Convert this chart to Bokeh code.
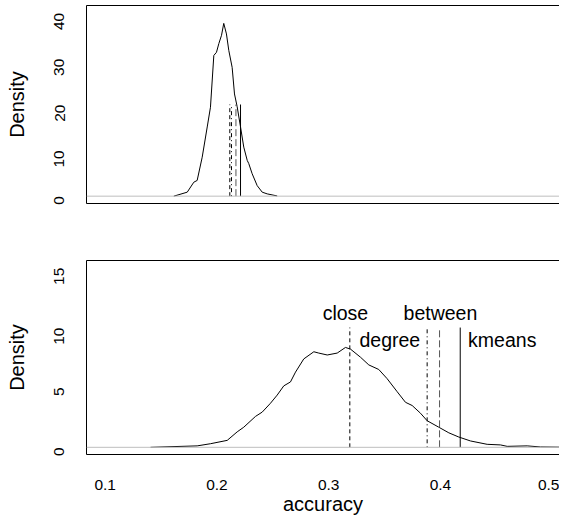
import math
from bokeh.plotting import figure
from bokeh.models import Range1d, FixedTicker, LinearAxis, Span
from bokeh.layouts import column
from bokeh.embed import file_html
from bokeh.resources import INLINE
from bokeh.core.properties import value

# ---------------- data ----------------
top_x = [0.1614, 0.1734, 0.1793, 0.1823, 0.1868, 0.1913, 0.1942, 0.1972, 0.1996,
         0.2017, 0.2041, 0.2061, 0.2085, 0.2106, 0.2136, 0.2157, 0.2181, 0.2211,
         0.2240, 0.2271, 0.2285, 0.2315, 0.2360, 0.2405, 0.2450, 0.2539]
top_density = [0.0, 0.87, 3.05, 3.43, 8.5, 15.1, 19.4, 30.7, 31.4,
               33.3, 35.1, 37.7, 35.4, 31.8, 28.1, 22.3, 19.5, 15.1,
               10.7, 7.8, 7.1, 4.9, 2.3, 0.87, 0.5, 0.05]

bottom_x = [0.1406, 0.1823, 0.1942, 0.2092, 0.2181, 0.2240, 0.2345, 0.2405, 0.2479,
            0.2539, 0.2598, 0.2658, 0.2703, 0.2777, 0.2867, 0.2911, 0.2987, 0.3076,
            0.3150, 0.3195, 0.3285, 0.3359, 0.3448, 0.3523, 0.3613, 0.3687, 0.3747,
            0.3821, 0.3881, 0.3985, 0.4075, 0.4164, 0.4269, 0.4418, 0.4537, 0.4597,
            0.4776, 0.4895, 0.5200]
bottom_density = [0.0, 0.12, 0.3, 0.58, 1.29, 1.68, 2.58, 2.94, 3.68,
                  4.36, 5.13, 5.46, 6.28, 7.38, 7.98, 7.87, 7.71, 7.87,
                  8.34, 8.2, 7.52, 6.88, 6.5, 5.73, 4.64, 3.76, 3.49,
                  2.85, 2.22, 1.68, 1.21, 0.86, 0.53, 0.25, 0.2, 0.08,
                  0.12, 0.03, 0.0]

methods = ["close", "degree", "between", "kmeans"]
top_marks = [0.2115, 0.2130, 0.2170, 0.2211]
bottom_marks = [0.3189, 0.3881, 0.3992, 0.4177]
top_mark_height = 20
bottom_mark_height = 10
label_x = [0.315, 0.3547, 0.400, 0.4553]
label_y = [11.25, 9.0, 11.25, 9.0]

x_ticks = [0.1, 0.2, 0.3, 0.4, 0.5]
top_y_ticks = [0, 10, 20, 30, 40]
bottom_y_ticks = [0, 5, 10, 15]

# ---------------- styles ----------------
FONT = "Liberation Sans"
DASHES = ["4 3", "1 3 4 3", "7 3", "solid"]
MARK_COLORS = ["black", "black", "#555555", "black"]
WIDTH = 559
LEFT = 86
X0 = 0.08327
X1 = X0 + (WIDTH - LEFT) / 1117.5


def make_fig(height, ystart, yend, mbt, mbb, yticks, show_x):
    p = figure(width=WIDTH, height=height, output_backend="svg", toolbar_location=None,
               x_range=Range1d(X0, X1), y_range=Range1d(ystart, yend),
               min_border_left=LEFT, min_border_right=0,
               min_border_top=mbt, min_border_bottom=mbb)
    p.outline_line_color = None
    p.grid.visible = False
    p.background_fill_color = "white"
    p.border_fill_color = "white"

    ya = p.yaxis[0]
    ya.ticker = FixedTicker(ticks=yticks)
    ya.major_label_orientation = math.pi / 2
    ya.major_tick_line_color = None
    ya.minor_tick_line_color = None
    ya.axis_line_color = "black"
    ya.major_label_text_font = FONT
    ya.major_label_text_font_size = "15.5px"
    ya.major_label_text_color = "black"
    ya.major_label_standoff = 21
    ya.axis_label = "Density"
    ya.axis_label_text_font = FONT
    ya.axis_label_text_font_size = "20px"
    ya.axis_label_text_font_style = "normal"
    ya.axis_label_text_color = "black"
    ya.axis_label_standoff = 19

    xa = p.xaxis[0]
    xa.major_tick_line_color = None
    xa.minor_tick_line_color = None
    xa.axis_line_color = "black"
    if show_x:
        xa.ticker = FixedTicker(ticks=x_ticks)
        xa.major_label_text_font = FONT
        xa.major_label_text_font_size = "15.5px"
        xa.major_label_text_color = "black"
        xa.major_label_standoff = 19
        xa.axis_label = "accuracy"
        xa.axis_label_text_font = FONT
        xa.axis_label_text_font_size = "20px"
        xa.axis_label_text_font_style = "normal"
        xa.axis_label_text_color = "black"
        xa.axis_label_standoff = 0
    else:
        xa.ticker = FixedTicker(ticks=[])
        xa.major_label_standoff = 0
        xa.major_tick_out = 0

    top_axis = LinearAxis(ticker=FixedTicker(ticks=[]), major_tick_line_color=None,
                          minor_tick_line_color=None, major_tick_out=0,
                          major_label_standoff=0, axis_line_color="black")
    p.add_layout(top_axis, "above")

    p.add_layout(Span(location=0, dimension="width", line_color="#bebebe", line_width=1))
    return p


# top panel: frame 5..203 px
p1 = make_fig(231, -1.6, 41.6, 5, 28, top_y_ticks, False)
p1.line(top_x, top_density, line_color="black", line_width=1)
for i in range(len(methods)):
    p1.segment(x0=[top_marks[i]], y0=[0], x1=[top_marks[i]], y1=[top_mark_height],
               line_color=MARK_COLORS[i], line_width=1, line_dash=DASHES[i])

# bottom panel: frame 260..457 px
p2 = make_fig(286, -0.6, 15.6, 29, 60, bottom_y_ticks, True)
p2.line(bottom_x, bottom_density, line_color="black", line_width=1)
for i in range(len(methods)):
    p2.segment(x0=[bottom_marks[i]], y0=[0], x1=[bottom_marks[i]], y1=[bottom_mark_height],
               line_color=MARK_COLORS[i], line_width=1, line_dash=DASHES[i])
p2.text(x=label_x, y=label_y, text=methods, text_font=value(FONT),
        text_font_size="19.5px", text_align="center", text_baseline="middle",
        text_color="black")

layout = column(p1, p2)
open("out.html", "w").write(file_html(layout, INLINE))
